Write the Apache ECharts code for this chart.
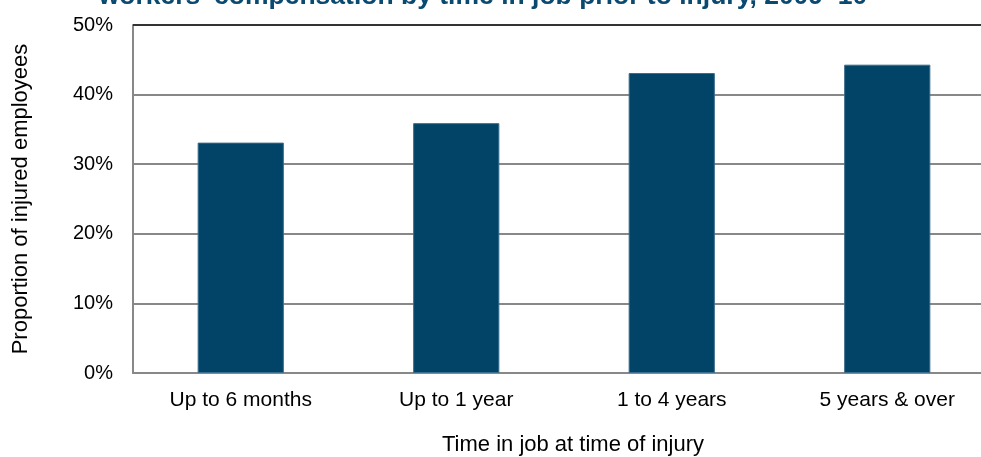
<!DOCTYPE html>
<html>
<head>
<meta charset="utf-8">
<script src="https://cdn.jsdelivr.net/npm/echarts@6/dist/echarts.min.js"></script>
<style>
  html, body { margin: 0; padding: 0; background: #fff; }
  #chart { width: 981px; height: 457px; }
</style>
</head>
<body>
<div id="chart"></div>
<script>
  // 数据
  const categories = ['Up to 6 months', 'Up to 1 year', '1 to 4 years', '5 years & over'];
  const proportions = [33.1, 35.9, 43.1, 44.3];
  const titleText = "workers' compensation by time in job prior to injury, 2009\u201310";

  const chart = echarts.init(document.getElementById('chart'));
  const font = 'Liberation Sans, Arial, sans-serif';

  const option = {
    animation: false,
    title: {
      text: titleText,
      left: 478,
      textAlign: 'center',
      top: -22,
      textStyle: { color: '#0b4a70', fontSize: 26.5, fontWeight: 'bold', fontFamily: font }
    },
    grid: { left: 133, top: 25, width: 862, height: 348, outerBoundsMode: 'none' },
    xAxis: {
      type: 'category',
      data: categories,
      name: 'Time in job at time of injury',
      nameLocation: 'middle',
      nameGap: 61,
      nameTextStyle: { color: '#000', fontSize: 22, fontFamily: font, padding: [0, 0, 0, 18] },
      axisLine: { lineStyle: { color: '#888', width: 2 } },
      axisTick: { show: false },
      axisLabel: { color: '#000', fontSize: 21, fontFamily: font, margin: 17 }
    },
    yAxis: {
      type: 'value',
      min: 0,
      max: 50,
      interval: 10,
      name: 'Proportion of injured employees',
      nameLocation: 'middle',
      nameGap: 101,
      nameTextStyle: { color: '#000', fontSize: 22, fontFamily: font },
      axisLine: { show: true, lineStyle: { color: '#888', width: 2 } },
      axisTick: { show: false },
      axisLabel: { color: '#000', fontSize: 20, fontFamily: font, margin: 20, formatter: '{value}%' },
      splitLine: { lineStyle: { color: '#888', width: 2 } }
    },
    series: [{
      type: 'bar',
      data: proportions,
      barWidth: '40%',
      itemStyle: { color: '#024468', borderColor: '#3b6d8c', borderWidth: 1 }
    }],
    graphic: [{
      type: 'line',
      shape: { x1: 133, y1: 25, x2: 981, y2: 25 },
      style: { stroke: '#333', lineWidth: 2 },
      z: 10
    }]
  };

  chart.setOption(option);
</script>
</body>
</html>
